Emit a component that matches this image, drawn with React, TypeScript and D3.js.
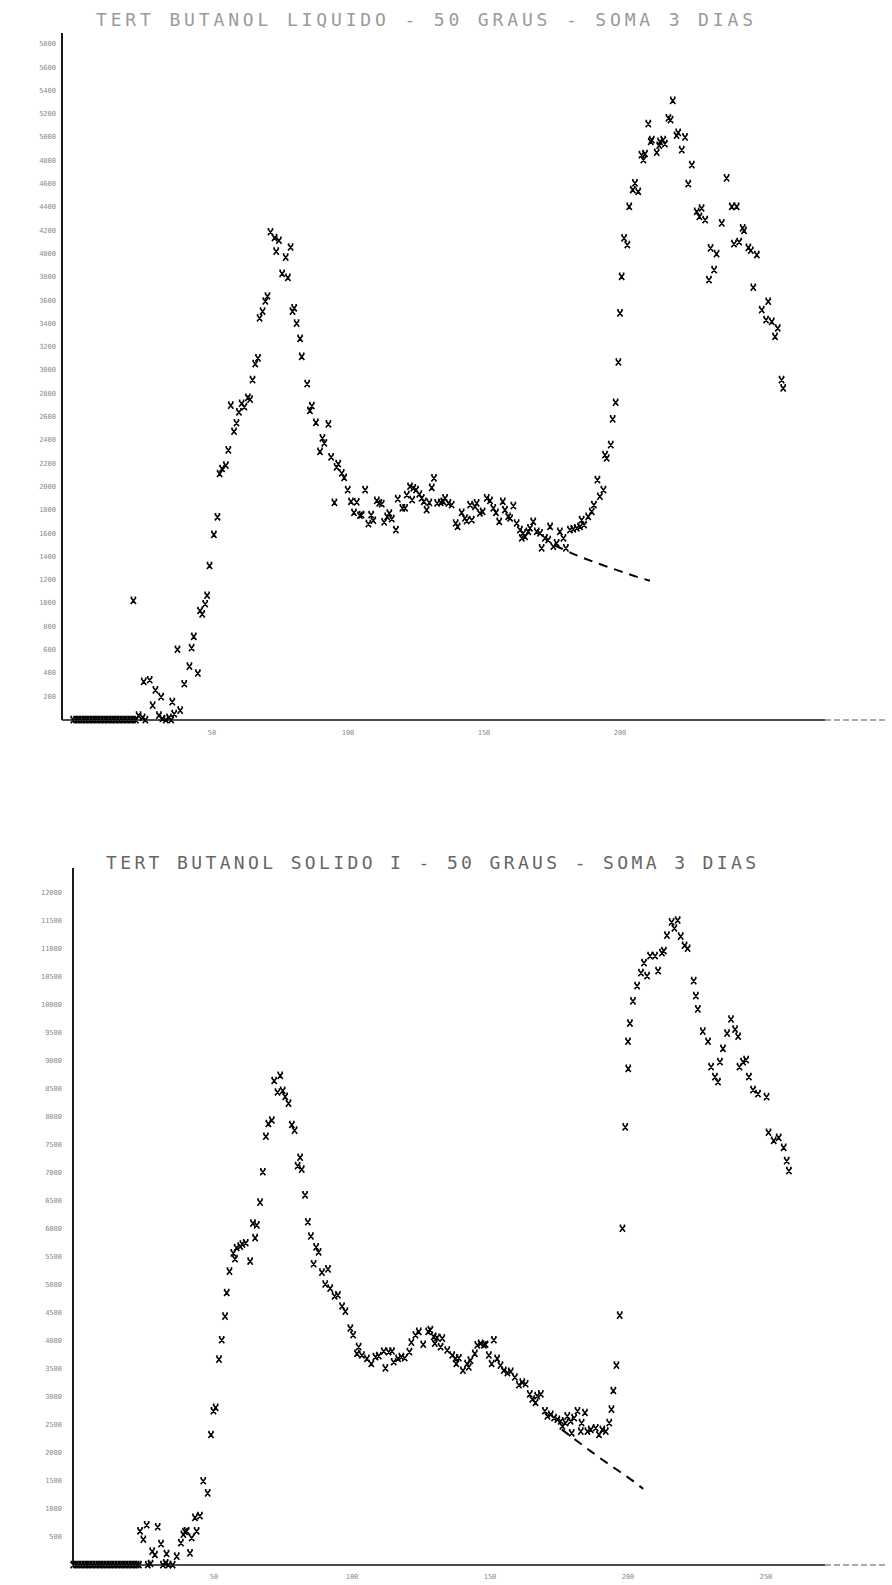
import React from 'react';
import * as d3 from 'd3';

const TOP_TITLE = 'TERT BUTANOL LIQUIDO - 50 GRAUS - SOMA 3 DIAS';
const BOTTOM_TITLE = 'TERT BUTANOL SOLIDO I - 50 GRAUS - SOMA 3 DIAS';

const topYTicks = [200, 400, 600, 800, 1000, 1200, 1400, 1600, 1800, 2000, 2200, 2400, 2600, 2800, 3000, 3200, 3400, 3600, 3800, 4000, 4200, 4400, 4600, 4800, 5000, 5200, 5400, 5600, 5800];
const bottomYTicks = [500, 1000, 1500, 2000, 2500, 3000, 3500, 4000, 4500, 5000, 5500, 6000, 6500, 7000, 7500, 8000, 8500, 9000, 9500, 10000, 10500, 11000, 11500, 12000];
const topXTicks = [50, 100, 150, 200];
const bottomXTicks = [50, 100, 150, 200, 250];

// channel, counts
const topPoints: [number, number][] = [
  [-1, 0], [0, 0], [1, 0], [2, 0], [3, 0], [4, 0], [5, 0], [6, 0], [7, 0], [8, 0], [9, 0], [10, 0], [11, 0], [12, 0],
  [13, 0], [14, 0], [15, 0], [16, 0], [17, 0], [18, 0], [19, 0], [20, 0], [21, 0], [22, 0],
  [24.5, 20], [25.5, 0], [31.8, 10], [33, 0], [34.2, 20], [35, 0],
  [21.1, 1024], [23.0, 38], [24.9, 328], [27.1, 342], [28.2, 125], [29.2, 255], [31.3, 197], [30.5, 38], [35.4, 154],
  [36.1, 52], [38.3, 81], [37.3, 604], [39.8, 308], [41.7, 459], [42.5, 618], [44.8, 400], [43.3, 714], [45.6, 937],
  [46.4, 908], [48.2, 1068], [47.5, 995], [49.1, 1323], [50.7, 1590], [52.0, 1741], [52.8, 2113], [53.7, 2156],
  [55.1, 2185], [56.0, 2316], [58.1, 2475], [59.0, 2548], [56.9, 2699], [59.9, 2641], [60.9, 2716], [61.9, 2687],
  [63.2, 2766], [64.0, 2751], [64.9, 2919], [65.9, 3056], [66.9, 3105], [67.5, 3448], [68.6, 3506], [69.6, 3593],
  [70.4, 3636], [71.5, 4188], [73.0, 4138], [74.6, 4115], [73.6, 4022], [77.1, 3970], [78.9, 4057], [75.8, 3831],
  [77.9, 3796], [79.6, 3506], [80.2, 3535], [81.1, 3404], [82.4, 3273],
  [83.0, 3118], [85.0, 2884], [86.7, 2695], [86.0, 2655], [88.2, 2552], [89.7, 2303],
  [92.8, 2538], [90.6, 2418], [91.3, 2375], [93.8, 2255], [96.4, 2198], [95.8, 2169], [97.7, 2118], [98.6, 2080],
  [99.9, 1974], [95.0, 1865], [101.1, 1874], [103.2, 1869], [106.3, 1974], [102.2, 1779], [104.4, 1754], [105.0, 1760],
  [107.5, 1682], [109.3, 1711], [108.5, 1760], [110.6, 1882], [111.5, 1860], [112.4, 1854], [113.3, 1697], [114.4, 1745],
  [115.2, 1774], [116.1, 1725], [117.6, 1631], [118.3, 1897], [120.0, 1817], [121.0, 1817], [121.6, 1931], [122.8, 2003],
  [124.0, 1989], [125.0, 1974], [123.6, 1888], [126.2, 1937], [127.1, 1903], [127.9, 1874], [128.9, 1803], [129.9, 1865],
  [131.6, 2075], [130.8, 1994], [132.8, 1860], [134.1, 1865], [135.0, 1874], [135.7, 1903], [136.9, 1860], [138.1, 1846],
  [139.6, 1688], [140.3, 1659], [141.8, 1779], [143.0, 1731], [143.6, 1708], [145.5, 1717], [144.9, 1846], [146.7, 1831],
  [147.3, 1860], [148.5, 1774], [149.5, 1788], [151.0, 1903], [152.2, 1882], [153.4, 1817], [154.4, 1779], [155.6, 1702],
  [156.9, 1874], [157.7, 1803], [158.9, 1745], [159.6, 1731], [160.8, 1837], [162.0, 1688], [163.2, 1631], [164.4, 1603],
  [163.9, 1560], [165.1, 1573], [166.3, 1616], [166.9, 1646], [168.1, 1702], [169.4, 1616], [170.6, 1603], [171.2, 1474],
  [172.4, 1560], [173.6, 1545], [174.3, 1659], [175.5, 1488], [176.7, 1517], [177.9, 1616], [179.2, 1560], [180.1, 1474],
  [181.6, 1631], [182.8, 1637], [184.1, 1646], [185.3, 1659], [185.9, 1717], [186.8, 1674], [188.3, 1745], [189.6, 1788],
  [190.4, 1846], [192.6, 1917], [193.9, 1974], [191.7, 2060], [195.1, 2246], [194.5, 2275], [196.6, 2361], [197.3, 2581],
  [198.4, 2724], [199.4, 3070],
  [200.0, 3491], [200.6, 3805], [201.5, 4135], [202.7, 4077], [203.4, 4406], [205.5, 4607], [204.7, 4550], [206.7, 4535],
  [207.9, 4850], [208.6, 4807], [209.2, 4859], [210.4, 5116], [211.7, 4979], [211.3, 4964], [213.5, 4870], [214.4, 4930],
  [214.7, 4964], [215.9, 4979], [216.5, 4944], [217.8, 5165], [218.6, 5150], [219.4, 5316], [220.8, 5016], [221.4, 5041],
  [223.9, 5002], [222.7, 4893], [226.4, 4764], [225.1, 4601], [228.2, 4363], [230.0, 4392], [229.2, 4320], [231.3, 4292],
  [232.7, 3777], [234.6, 3863], [233.3, 4049], [235.5, 4000], [237.4, 4264], [239.2, 4650], [241.1, 4406], [242.9, 4406],
  [241.9, 4086], [243.8, 4103], [245.1, 4221], [245.6, 4200], [247.2, 4054], [248.1, 4029], [250.3, 3992], [249.0, 3711],
  [252.1, 3519], [254.5, 3591], [253.7, 3434], [255.8, 3419], [258.0, 3362], [257.0, 3290], [259.4, 2919], [260.0, 2847],
];

const topFit: [number, number][] = [
  [176, 1500], [180, 1455], [185, 1405], [190, 1360], [195, 1318], [200, 1278], [205, 1238], [211, 1195],
];

const bottomPoints: [number, number][] = [
  [-1, 0], [0, 0], [1, 0], [2, 0], [3, 0], [4, 0], [5, 0], [6, 0], [7, 0], [8, 0], [9, 0], [10, 0], [11, 0], [12, 0],
  [13, 0], [14, 0], [15, 0], [16, 0], [17, 0], [18, 0], [19, 0], [20, 0], [21, 0], [22, 0], [22.8, 0],
  [26, 0], [27, 20], [31.5, 0], [32.5, 30], [33.5, 0], [35, 0],
  [23.2, 604], [24.4, 453], [25.6, 712], [29.6, 676], [27.6, 241], [28.6, 181], [30.8, 374], [32.8, 199], [36.5, 151],
  [38.0, 392], [39.5, 592], [38.9, 543], [40.1, 604], [41.9, 483], [41.3, 211], [43.7, 604], [43.1, 845], [44.9, 875],
  [46.1, 1497], [47.7, 1280], [48.9, 2324], [49.8, 2747], [50.6, 2807], [51.8, 3670], [52.8, 4015], [54.0, 4437],
  [54.6, 4860], [55.6, 5240], [58.2, 5663], [57.6, 5463], [57.0, 5566], [59.5, 5687], [60.3, 5723], [61.5, 5747],
  [63.1, 5421], [64.1, 6097], [65.5, 6067], [64.9, 5838], [66.7, 6472], [67.7, 7015], [68.8, 7649], [69.7, 7878],
  [70.95, 7939], [71.8, 8645], [74.0, 8736], [73.0, 8440], [74.9, 8470], [75.8, 8361], [77.0, 8241], [78.2, 7860],
  [79.2, 7758], [81.2, 7275], [80.3, 7124], [81.8, 7063], [83.0, 6604], [84.0, 6122], [85.1, 5868], [87.0, 5675],
  [87.9, 5584], [86.1, 5373], [89.1, 5222], [91.3, 5282], [90.3, 5011], [92.1, 4938], [93.7, 4799], [94.9, 4818],
  [96.4, 4618], [97.6, 4528], [99.4, 4226], [100.4, 4105], [102.4, 3894], [101.8, 3773], [103.6, 3743], [105.4, 3683],
  [107.0, 3592], [108.5, 3713], [109.7, 3731], [112.1, 3514], [111.5, 3815], [113.3, 3803], [114.5, 3815], [115.1, 3622],
  [116.7, 3683], [117.9, 3713], [119.1, 3695], [120.8, 3803], [121.5, 3972], [123.0, 4105], [124.2, 4166], [125.8, 3936],
  [127.6, 4166], [128.4, 4196], [129.6, 4075], [130.8, 4057], [132.7, 4045], [130.0, 3954], [132.1, 3894], [134.5, 3833],
  [136.3, 3743], [137.5, 3683], [138.7, 3695], [137.8, 3592], [140.2, 3471], [141.7, 3592], [142.9, 3652], [142.3, 3532],
  [144.5, 3773], [145.4, 3924], [146.6, 3954], [147.8, 3924], [148.4, 3936], [151.4, 4015], [149.6, 3743], [150.6, 3592],
  [152.6, 3683], [153.8, 3562], [155.0, 3471], [156.3, 3429], [157.5, 3453], [159.0, 3351], [160.5, 3212], [161.7, 3260],
  [162.9, 3230], [164.4, 3049], [165.3, 2958], [167.1, 3019], [168.4, 3049], [166.5, 2898], [169.9, 2747], [170.8, 2656],
  [172.0, 2686], [173.2, 2626], [174.4, 2596], [175.6, 2566], [176.2, 2475], [177.4, 2536], [178.0, 2656], [179.2, 2566],
  [180.5, 2626], [181.7, 2747], [184.4, 2717], [183.2, 2536], [182.9, 2385], [185.3, 2385], [186.5, 2415], [188.3, 2445],
  [189.5, 2324], [190.7, 2415], [191.95, 2385], [193.2, 2536], [179.6, 2354], [194.0, 2777], [194.7, 3109], [195.8, 3562],
  [197.0, 4455], [198.0, 6007], [199.0, 7818], [200.1, 8862],
  [200.0, 9346], [200.7, 9671], [201.8, 10068], [203.3, 10339], [204.7, 10571], [205.8, 10750], [206.9, 10518], [208.0, 10875],
  [209.8, 10875], [210.9, 10607], [212.3, 10929], [213.0, 10964], [214.1, 11241], [215.8, 11477], [216.8, 11368], [218.0, 11512],
  [219.1, 11223], [220.5, 11061], [221.6, 11007], [223.8, 10429], [224.6, 10161], [225.3, 9923], [227.1, 9527], [229.0, 9346],
  [230.1, 8893], [231.5, 8714], [232.6, 8625], [233.3, 8982], [234.4, 9220], [235.9, 9491], [237.3, 9743], [238.8, 9562],
  [239.9, 9436], [241.7, 8982], [240.4, 8893], [242.8, 9018], [243.8, 8714], [245.3, 8482], [247.1, 8411], [250.2, 8357],
  [250.9, 7721], [252.8, 7577], [254.6, 7630], [256.4, 7450], [257.5, 7214], [258.3, 7036],
];

const bottomFit: [number, number][] = [
  [176, 2420], [181, 2234], [186, 2050], [191, 1870], [196, 1700], [201, 1530], [205.5, 1360],
];

type PanelProps = {
  title: string;
  titleX: number;
  titleY: number;
  titleWidth: number;
  titleColor: string;
  points: [number, number][];
  fit: [number, number][];
  xTicks: number[];
  yTicks: number[];
  xRange: [number, number];
  yDomainMax: number;
  yRange: [number, number];
  axisX: number;
  axisTop: number;
  axisRight: number;
  yLabelRight: number;
  xLabelY: number;
};

const marker = 'M-2.6,-3.2L2.6,3.2M2.6,-3.2L-2.6,3.2M-2.8,-3.4L-1.2,-3.4M1.2,-3.4L2.8,-3.4';

function Panel(p: PanelProps) {
  const x = d3.scaleLinear().domain([0, 300]).range(p.xRange);
  const y = d3.scaleLinear().domain([0, p.yDomainMax]).range(p.yRange);
  const y0 = y(0);
  const line = d3
    .line<[number, number]>()
    .x((d) => x(d[0]))
    .y((d) => y(d[1]))
    .curve(d3.curveMonotoneX);
  return (
    <g>
      <text
        x={p.titleX}
        y={p.titleY}
        textLength={p.titleWidth}
        lengthAdjust="spacing"
        fontFamily="'DejaVu Sans Mono', monospace"
        fontSize={18}
        fill={p.titleColor}
      >
        {p.title}
      </text>
      {/* y axis */}
      <line x1={p.axisX} x2={p.axisX} y1={p.axisTop} y2={y0} stroke="#000" strokeWidth={1.8} />
      {/* x axis */}
      <line x1={p.axisX} x2={p.axisRight - 60} y1={y0} y2={y0} stroke="#111" strokeWidth={1.5} />
      <line
        x1={p.axisRight - 60}
        x2={p.axisRight}
        y1={y0}
        y2={y0}
        stroke="#555"
        strokeWidth={1.2}
        strokeDasharray="6 3"
      />
      {p.yTicks.map((t) => (
        <text
          key={'y' + t}
          x={p.yLabelRight}
          y={y(t)}
          textAnchor="end"
          dominantBaseline="middle"
          fontFamily="'DejaVu Sans Mono', monospace"
          fontSize={7}
          fill="#8a8a8a"
        >
          {t}
        </text>
      ))}
      {p.xTicks.map((t) => (
        <text
          key={'x' + t}
          x={x(t)}
          y={p.xLabelY}
          textAnchor="middle"
          dominantBaseline="middle"
          fontFamily="'DejaVu Sans Mono', monospace"
          fontSize={7}
          fill="#8a8a8a"
        >
          {t}
        </text>
      ))}
      <path d={line(p.fit) || ''} fill="none" stroke="#000" strokeWidth={2} strokeDasharray="9 7" />
      {p.points.map((d, i) => (
        <path
          key={i}
          d={marker}
          transform={`translate(${x(d[0])},${y(d[1])})`}
          stroke="#000"
          strokeWidth={1.6}
          fill="none"
        />
      ))}
    </g>
  );
}

export default function App() {
  return (
    <svg
      width={892}
      height={1585}
      style={{ position: 'absolute', left: 0, top: 0, display: 'block', background: '#fff' }}
    >
      <rect x={0} y={0} width={892} height={1585} fill="#fff" />
      <Panel
        title={TOP_TITLE}
        titleX={96}
        titleY={26}
        titleWidth={657}
        titleColor="#9a9a9a"
        points={topPoints}
        fit={topFit}
        xTicks={topXTicks}
        yTicks={topYTicks}
        xRange={[76, 892]}
        yDomainMax={5800}
        yRange={[720, 720 - 23.3 * 29]}
        axisX={62}
        axisTop={33}
        axisRight={885}
        yLabelRight={56}
        xLabelY={733}
      />
      <Panel
        title={BOTTOM_TITLE}
        titleX={106}
        titleY={869}
        titleWidth={650}
        titleColor="#666"
        points={bottomPoints}
        fit={bottomFit}
        xTicks={bottomXTicks}
        yTicks={bottomYTicks}
        xRange={[76, 904]}
        yDomainMax={12000}
        yRange={[1565, 1565 - 28 * 24]}
        axisX={73}
        axisTop={868}
        axisRight={885}
        yLabelRight={62}
        xLabelY={1577}
      />
    </svg>
  );
}
